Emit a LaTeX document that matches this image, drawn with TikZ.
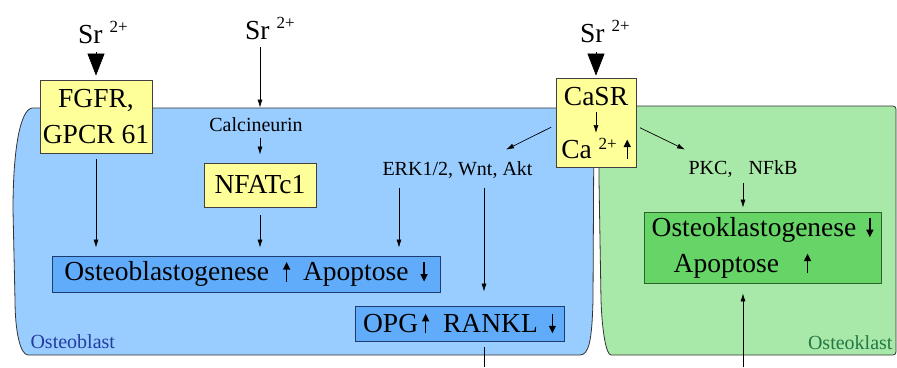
\documentclass[tikz,border=0pt]{standalone}
\usepackage{fontspec}
\setmainfont{Liberation Serif}
\usetikzlibrary{arrows.meta}

\definecolor{blastcell}{RGB}{153,204,255}
\definecolor{blastbox}{RGB}{96,172,250}
\definecolor{blastedge}{RGB}{30,60,110}
\definecolor{clastcell}{RGB}{168,232,168}
\definecolor{clastbox}{RGB}{102,212,102}
\definecolor{clastedge}{RGB}{40,100,40}
\definecolor{yellowbox}{RGB}{255,255,153}
\definecolor{blastlabel}{RGB}{35,60,160}
\definecolor{clastlabel}{RGB}{35,120,70}

\newcommand{\boxfont}{\fontsize{27.5}{36}\selectfont}
\newcommand{\smallfont}{\fontsize{20}{24}\selectfont}
\newcommand{\charge}[3][11pt]{#2 \raisebox{#1}{\fontsize{17}{17}\selectfont #3}}
\newcommand{\incr}{\tikz[baseline=0pt]\draw[line width=1.4pt,-{Triangle[length=7.5pt,width=7pt]}] (0pt,-1pt) -- (0pt,18.5pt);}
\newcommand{\decr}{\tikz[baseline=0pt]\draw[line width=1.4pt,-{Triangle[length=7.5pt,width=7pt]}] (0pt,18.5pt) -- (0pt,-1pt);}

\begin{document}
\begin{tikzpicture}[x=1pt,y=-1pt,
  cell/.style={draw=black!80,line width=0.8pt},
  ybox/.style={draw=black!75,fill=yellowbox,line width=0.8pt,font=\boxfont,inner sep=0pt,align=center},
  bbox/.style={draw=blastedge,fill=blastbox,line width=0.8pt,font=\boxfont,inner sep=0pt},
  gbox/.style={draw=clastedge,fill=clastbox,line width=0.8pt,font=\boxfont,inner xsep=5pt,inner ysep=0pt},
  lbl/.style={font=\smallfont,anchor=base},
  ion/.style={font=\boxfont,anchor=base west,inner sep=0pt},
  plainline/.style={line width=0.7pt},
  conn/.style={plainline,-{Latex[length=8pt,width=5pt]},shorten >=8pt},
  bigarr/.style={plainline,-{Triangle[length=22pt,width=17pt]}}]

\useasboundingbox (0,0) rectangle (897,367);

\filldraw[cell,fill=blastcell] (32,108) -- (594,108) -- (593,300) .. controls (592,340) and (589,355) .. (580,355) -- (28,355) .. controls (20,355) and (15,330) .. (15,300) -- (13,210) .. controls (13,150) and (20,110) .. (32,108) -- cycle;
\filldraw[cell,fill=clastcell,rounded corners=3pt] (599,106) -- (896,106) -- (896,355) -- (614,355) [sharp corners] .. controls (606,355) and (602,330) .. (601,300) -- (599,180) -- cycle;

\node[lbl,text=blastlabel,anchor=base west] (oblabel) at (27,348) {Osteoblast};
\node[lbl,text=clastlabel,anchor=base east] (oclabel) at (896,349) {Osteoklast};

\node[ybox,minimum width=112pt,minimum height=73pt] (fgfr) at (96,116.5) {FGFR,\\GPCR 61};
\node[ybox,minimum width=112pt,minimum height=44pt] (nfat) at (260,185) {NFATc1};
\node[ybox,minimum width=80pt,minimum height=89pt] (casr) at (596,122.5) {};
\node[font=\boxfont,anchor=base,inner sep=2pt] (casrtxt) at (596,105) {CaSR};
\node[font=\boxfont,anchor=base,inner sep=2pt] (catxt) at (596,158) {\charge[9pt]{Ca}{2+}\hspace{7pt}\incr};

\node[ion] (sr1) at (78,43) {\charge{Sr}{2+}};
\node[ion] (sr2) at (245,39) {\charge{Sr}{2+}};
\node[ion] (sr3) at (580,42) {\charge{Sr}{2+}};

\node[lbl] (calc) at (256,131) {Calcineurin};
\node[lbl] (erk) at (457.5,175) {ERK1/2, Wnt, Akt};
\node[lbl] (pkc) at (743,174) {PKC,\hspace{16pt}NFkB};

\node[bbox,minimum width=388pt,minimum height=36pt] (obgen) at (246,274) {Osteoblastogenese\hspace{14pt}\incr\hspace{13pt}Apoptose\hspace{12pt}\decr};
\node[bbox,minimum width=209pt,minimum height=35pt] (opg) at (459.5,323.5) {OPG\hspace{4pt}\incr\hspace{14pt}RANKL\hspace{11pt}\decr};
\node[gbox,minimum width=237pt,minimum height=71pt,align=left] (ocgen) at (762.5,247.5) {Osteoklastogenese\hspace{10pt}\decr\\\hspace{22pt}Apoptose\hspace{25pt}\incr};

\coordinate (bot1) at (484,367);
\coordinate (bot2) at (743,367);

\draw[bigarr,shorten <=9pt,shorten >=4pt] (fgfr.north |- sr1.south) -- (fgfr.north);
\draw[bigarr,shorten <=10pt,shorten >=2pt] (casr.north |- sr3.south) -- (casr.north);
\draw[conn,shorten <=8pt,shorten >=6pt] (nfat.north |- sr2.south) -- (nfat.north |- calc.north);
\draw[conn,shorten <=3pt] (nfat.north |- calc.south) -- (nfat.north);

\draw[conn,shorten <=6pt] (fgfr.south) -- (fgfr.south |- obgen.north);
\draw[conn,shorten <=8pt] (nfat.south) -- (nfat.south |- obgen.north);
\draw[conn,shorten <=6pt] ([xshift=20pt]erk.south west) coordinate (e1) -- (e1 |- obgen.north);
\draw[conn,shorten <=6pt,shorten >=14pt] (bot1 |- erk.south) -- (bot1 |- opg.north);
\draw[plainline,shorten <=6pt] (bot1 |- opg.south) -- (bot1);

\draw[conn,shorten <=5pt,shorten >=0pt] ([yshift=-2.5pt]casr.west) -- ([xshift=-30pt,yshift=8pt]erk.north east);
\draw[conn,shorten <=4pt,shorten >=0pt] ([yshift=-3.5pt]casr.east) -- ([yshift=7pt]pkc.north west);
\draw[conn,shorten <=5pt,shorten >=2.5pt] (casrtxt.south) -- (casrtxt.south |- catxt.north);

\draw[conn,shorten <=2pt,shorten >=4pt] (pkc.south) -- (pkc.south |- ocgen.north);
\draw[conn,shorten >=10pt] (bot2) -- (bot2 |- ocgen.south);

\end{tikzpicture}
\end{document}
